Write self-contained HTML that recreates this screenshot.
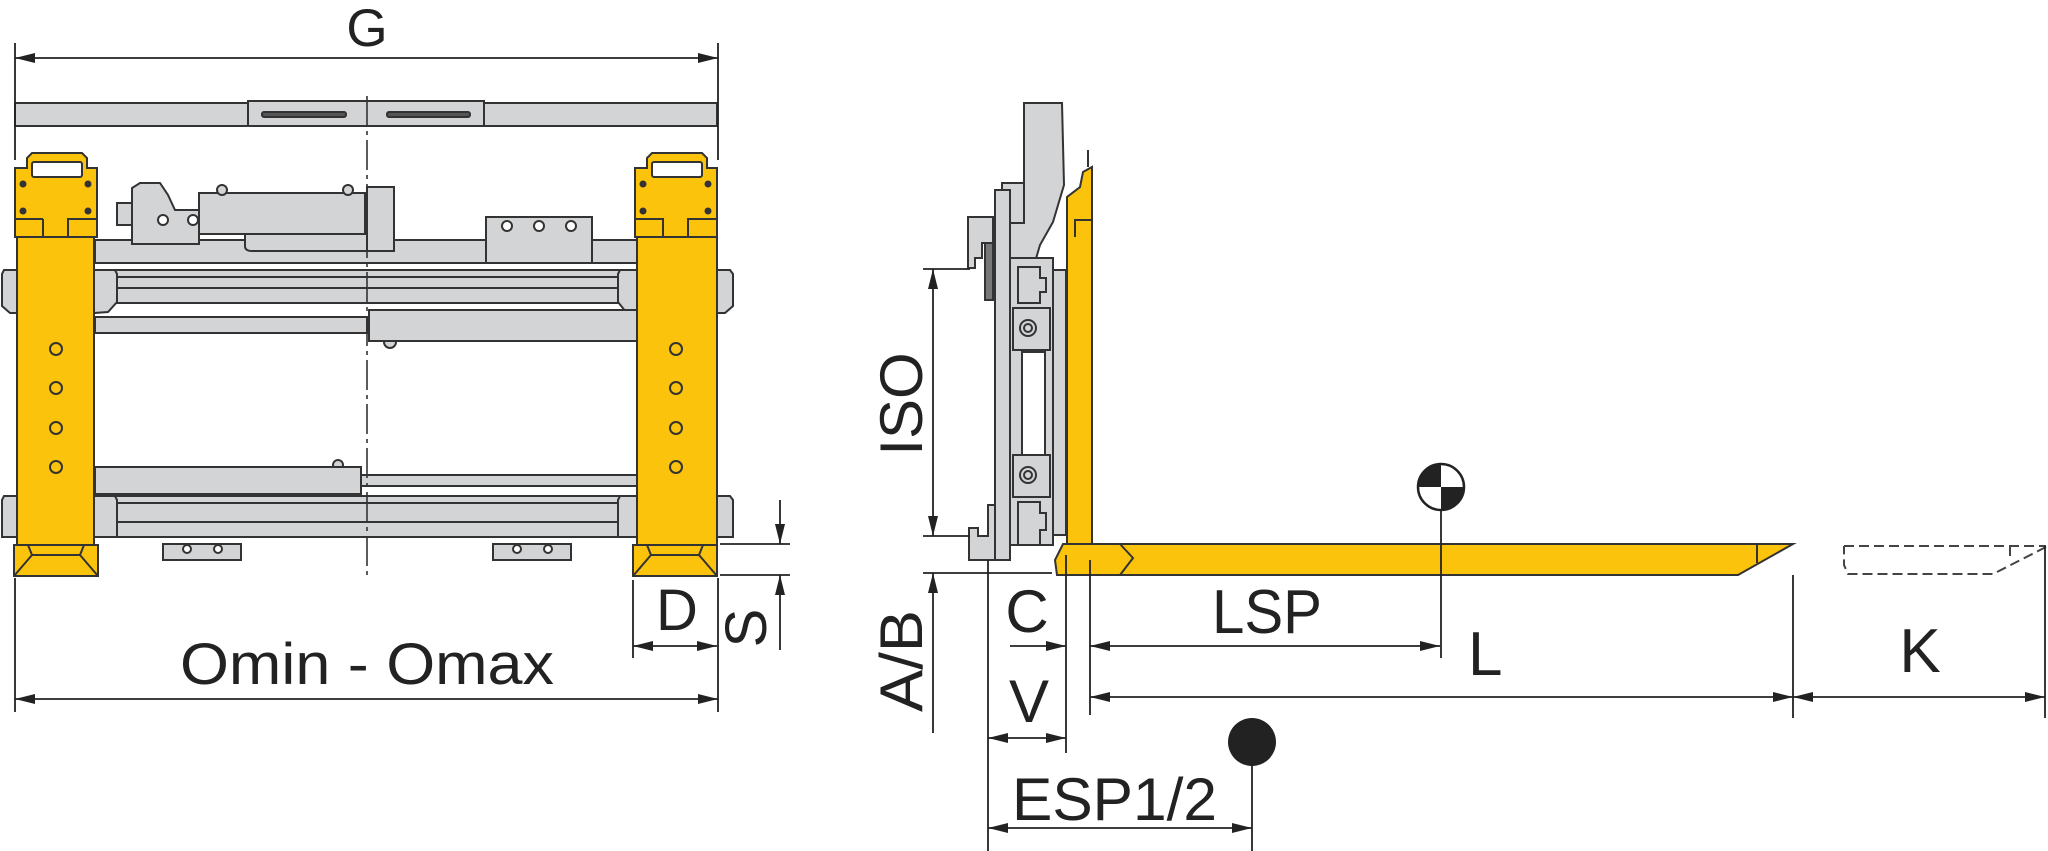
<!DOCTYPE html>
<html><head><meta charset="utf-8"><style>
html,body{margin:0;padding:0;background:#fff;}
svg{display:block;}
text{font-family:"Liberation Sans",sans-serif;fill:#222;}
</style></head><body>
<svg width="2048" height="851" viewBox="0 0 2048 851" xmlns="http://www.w3.org/2000/svg">
<defs>
<marker id="a" viewBox="0 0 20 10" refX="20" refY="5" markerWidth="20" markerHeight="10" markerUnits="userSpaceOnUse" orient="auto-start-reverse"><path d="M0,0 L20,5 L0,10 z" fill="#222"/></marker>
</defs>
<g stroke="#333" stroke-width="2" fill="#d3d4d6">
<!-- FRONT VIEW -->
<!-- top bar -->
<rect x="15" y="103" width="702" height="23"/>
<rect x="248" y="101" width="236" height="25"/>
<rect x="262" y="112" width="84" height="5" rx="2" fill="#555"/>
<rect x="387" y="112" width="83" height="5" rx="2" fill="#555"/>
<!-- carriage top bar -->
<rect x="95" y="240" width="542" height="23"/>
<!-- upper fixture -->
<rect x="117" y="203" width="17" height="22"/>
<path d="M132,244 L132,188 L140,183 L160,183 L168,195 L175,210 L199,210 L199,244 z"/>
<rect x="199" y="193" width="166" height="41"/>
<circle cx="222" cy="190" r="5"/><circle cx="348" cy="190" r="5"/>
<path d="M245,234 L245,246 Q245,251 252,251 L394,251 L394,234 z"/>
<rect x="367" y="187" width="27" height="64"/>
<circle cx="163" cy="220" r="5" fill="#fff"/><circle cx="193" cy="220" r="5" fill="#fff"/>
<rect x="486" y="217" width="106" height="46"/>
<circle cx="507" cy="226" r="5" fill="#fff"/><circle cx="539" cy="226" r="5" fill="#fff"/><circle cx="571" cy="226" r="5" fill="#fff"/>
<!-- upper rail -->
<rect x="95" y="270" width="542" height="7"/>
<rect x="95" y="277" width="542" height="11"/>
<rect x="95" y="288" width="542" height="15"/>
<path d="M17,270 L4,270 L2,274 L2,306 L10,313 L17,313 z"/>
<path d="M94,270 L115,270 L117,274 L117,302 L108,312 L94,313 z"/>
<path d="M637,270 L620,270 L618,274 L618,302 L626,312 L637,313 z"/>
<path d="M717,270 L730,270 L733,274 L733,306 L725,313 L717,313 z"/>
<!-- lower rod + cylinder -->
<rect x="95" y="317" width="272" height="16"/>
<circle cx="390" cy="342" r="6"/>
<rect x="369" y="310" width="268" height="31"/>
<!-- bottom cylinder -->
<circle cx="338" cy="465" r="5"/>
<rect x="95" y="467" width="266" height="27"/>
<rect x="361" y="475" width="276" height="11"/>
<!-- lower rail -->
<rect x="95" y="496" width="542" height="7"/>
<rect x="95" y="503" width="542" height="19"/>
<rect x="95" y="522" width="542" height="15"/>
<path d="M17,496 L4,496 L2,500 L2,537 L17,537 z"/>
<path d="M94,496 L115,496 L117,500 L117,537 L94,537 z"/>
<path d="M637,496 L620,496 L618,500 L618,537 L637,537 z"/>
<path d="M717,496 L730,496 L733,500 L733,537 L717,537 z"/>
<!-- bottom plates -->
<rect x="163" y="544" width="78" height="16"/>
<circle cx="187" cy="549" r="4" fill="#fff"/><circle cx="218" cy="549" r="4" fill="#fff"/>
<rect x="493" y="544" width="78" height="16"/>
<circle cx="517" cy="549" r="4" fill="#fff"/><circle cx="548" cy="549" r="4" fill="#fff"/>
</g>
<!-- yellow columns -->
<g stroke="#333" stroke-width="2" fill="#fcc30d">
<path d="M15,237 L15,168 L27,168 L27,158 L32,153 L82,153 L87,158 L87,168 L97,168 L97,237 z"/>
<rect x="32" y="162" width="50" height="15" rx="2" fill="#fff"/>
<path d="M15,237 L43,237 L43,219 M68,237 L68,219 L97,219 M15,219 L43,219" fill="none"/>
<rect x="17" y="237" width="77" height="308"/>
<path d="M14,545 L98,545 L98,576 L14,576 z"/>
<path d="M14,576 L32,555 L80,555 L98,576 M32,555 L28,545 M80,555 L84,545" fill="none"/>
<path d="M635,237 L635,168 L647,168 L647,158 L652,153 L702,153 L707,158 L707,168 L717,168 L717,237 z"/>
<rect x="652" y="162" width="50" height="15" rx="2" fill="#fff"/>
<path d="M635,219 L663,219 L663,237 M688,237 L688,219 L717,219" fill="none"/>
<rect x="637" y="237" width="80" height="308"/>
<path d="M633,545 L717,545 L717,576 L633,576 z"/>
<path d="M633,576 L651,555 L699,555 L717,576 M651,555 L647,545 M699,555 L703,545" fill="none"/>
</g>
<g fill="#333">
<circle cx="23" cy="184" r="3.5"/><circle cx="88" cy="184" r="3.5"/><circle cx="23" cy="211" r="3.5"/><circle cx="88" cy="211" r="3.5"/>
<circle cx="643" cy="184" r="3.5"/><circle cx="708" cy="184" r="3.5"/><circle cx="643" cy="211" r="3.5"/><circle cx="708" cy="211" r="3.5"/>
</g>
<g stroke="#333" stroke-width="2" fill="none">
<circle cx="56" cy="349" r="6"/><circle cx="56" cy="388" r="6"/><circle cx="56" cy="428" r="6"/><circle cx="56" cy="467" r="6"/>
<circle cx="676" cy="349" r="6"/><circle cx="676" cy="388" r="6"/><circle cx="676" cy="428" r="6"/><circle cx="676" cy="467" r="6"/>
<!-- centerline -->
<line x1="367" y1="96" x2="367" y2="578" stroke-dasharray="30,5,4,5" stroke-width="1.6"/>
</g>
<!-- front dims -->
<g stroke="#222" stroke-width="1.8" fill="none">
<line x1="15" y1="43" x2="15" y2="160"/><line x1="718" y1="43" x2="718" y2="160"/>
<line x1="15" y1="58" x2="718" y2="58" marker-start="url(#a)" marker-end="url(#a)"/>
<line x1="15" y1="578" x2="15" y2="712"/><line x1="718" y1="578" x2="718" y2="712"/>
<line x1="15" y1="699" x2="718" y2="699" marker-start="url(#a)" marker-end="url(#a)"/>
<line x1="633" y1="580" x2="633" y2="658"/>
<line x1="633" y1="646" x2="717" y2="646" marker-start="url(#a)" marker-end="url(#a)"/>
<line x1="720" y1="544" x2="790" y2="544"/><line x1="720" y1="575" x2="790" y2="575"/>
<line x1="780" y1="500" x2="780" y2="544" marker-end="url(#a)"/>
<line x1="780" y1="650" x2="780" y2="575" marker-end="url(#a)"/>
</g>
<text x="367" y="46" font-size="53" text-anchor="middle">G</text>
<text x="180" y="684" font-size="58" textLength="374" lengthAdjust="spacingAndGlyphs">Omin - Omax</text>
<text x="677" y="630" font-size="58" text-anchor="middle">D</text>
<text transform="translate(766,628) rotate(-90)" font-size="58" text-anchor="middle">S</text>

<!-- SIDE VIEW -->
<g stroke="#333" stroke-width="2" fill="#d3d4d6">
<path d="M1024,103 L1062,103 L1064,185 L1053,222 L1040,245 L1035,262 L1010,262 L1010,223 L1020,218 L1024,210 z"/>
<rect x="1002" y="183" width="22" height="40"/>
<rect x="1010" y="258" width="43" height="287"/>
<rect x="1022" y="352" width="23" height="103" fill="#fff"/>
<path d="M1018,267 L1040,267 L1040,278 L1046,278 L1046,292 L1040,292 L1040,303 L1018,303 z"/>
<rect x="1013" y="308" width="37" height="42"/>
<circle cx="1028" cy="328" r="8"/><circle cx="1028" cy="328" r="4"/>
<rect x="1013" y="455" width="37" height="42"/>
<circle cx="1028" cy="475" r="8"/><circle cx="1028" cy="475" r="4"/>
<path d="M1018,502 L1040,502 L1040,513 L1046,513 L1046,530 L1040,530 L1040,545 L1018,545 z"/>
<rect x="1053" y="270" width="13" height="265"/>
<rect x="995" y="190" width="15" height="370"/>
<path d="M968,217 L993,217 L993,243 L982,243 L982,258 L975,258 L975,268 L968,268 z"/>
<rect x="985" y="243" width="8" height="57" fill="#777"/>
<path d="M969,528 L978,528 L978,536 L988,536 L988,505 L995,505 L995,560 L969,560 z"/>
</g>
<g stroke="#333" stroke-width="2" fill="#fcc30d">
<path d="M1067,544 L1067,197 L1080,187 L1083,172 L1092,167 L1092,544 z"/>
<path d="M1075,237 L1075,220 L1092,220" fill="none"/>
<path d="M1063,544 L1793,544 L1738,575 L1057,575 L1055,560 z"/>
<path d="M1120,544 L1133,558 L1120,575" fill="none"/>
<line x1="1757" y1="544" x2="1757" y2="563"/>
</g>
<line x1="1088" y1="150" x2="1088" y2="167" stroke="#333" stroke-width="2"/>
<!-- dashed ghost -->
<path d="M1844,546 L2046,546 M2010,546 L2010,560 M2046,547 L1993,574 L1848,574 L1844,565 L1844,546" fill="none" stroke="#444" stroke-width="2" stroke-dasharray="10,5"/>
<!-- side dims -->
<g stroke="#222" stroke-width="1.8" fill="none">
<line x1="923" y1="269" x2="970" y2="269"/>
<line x1="923" y1="536" x2="970" y2="536"/>
<line x1="923" y1="573" x2="1052" y2="573"/>
<line x1="933" y1="269" x2="933" y2="536" marker-start="url(#a)" marker-end="url(#a)"/>
<line x1="933" y1="733" x2="933" y2="573" marker-end="url(#a)"/>
<line x1="988" y1="560" x2="988" y2="851"/>
<line x1="1066" y1="555" x2="1066" y2="753"/>
<line x1="1090" y1="560" x2="1090" y2="715"/>
<line x1="1010" y1="646" x2="1066" y2="646" marker-end="url(#a)"/>
<line x1="1440" y1="646" x2="1090" y2="646" marker-start="url(#a)" marker-end="url(#a)"/>
<line x1="1090" y1="697" x2="1793" y2="697" marker-start="url(#a)" marker-end="url(#a)"/>
<line x1="1793" y1="697" x2="2045" y2="697" marker-start="url(#a)" marker-end="url(#a)"/>
<line x1="1793" y1="575" x2="1793" y2="718"/>
<line x1="2045" y1="546" x2="2045" y2="718"/>
<line x1="988" y1="738" x2="1066" y2="738" marker-start="url(#a)" marker-end="url(#a)"/>
<line x1="988" y1="828" x2="1252" y2="828" marker-start="url(#a)" marker-end="url(#a)"/>
<line x1="1441" y1="505" x2="1441" y2="658"/>
<line x1="1252" y1="760" x2="1252" y2="851"/>
</g>
<!-- CG symbols -->
<circle cx="1441" cy="487" r="23" fill="#fff" stroke="#222" stroke-width="2.5"/>
<path d="M1441,487 L1441,464 A23,23 0 0 0 1418,487 z" fill="#222"/>
<path d="M1441,487 L1441,510 A23,23 0 0 0 1464,487 z" fill="#222"/>
<circle cx="1252" cy="742" r="24" fill="#222"/>
<!-- labels -->
<text transform="translate(922,404) rotate(-90)" font-size="60" text-anchor="middle">ISO</text>
<text transform="translate(922,661) rotate(-90)" font-size="60" text-anchor="middle" textLength="102" lengthAdjust="spacingAndGlyphs">A/B</text>
<text x="1027" y="632" font-size="60" text-anchor="middle">C</text>
<text x="1212" y="633" font-size="62" textLength="110" lengthAdjust="spacingAndGlyphs">LSP</text>
<text x="1468" y="675" font-size="62">L</text>
<text x="1920" y="672" font-size="62" text-anchor="middle">K</text>
<text x="1029" y="722" font-size="60" text-anchor="middle">V</text>
<text x="1012" y="820" font-size="60" textLength="205" lengthAdjust="spacingAndGlyphs">ESP1/2</text>
</svg>
</body></html>
